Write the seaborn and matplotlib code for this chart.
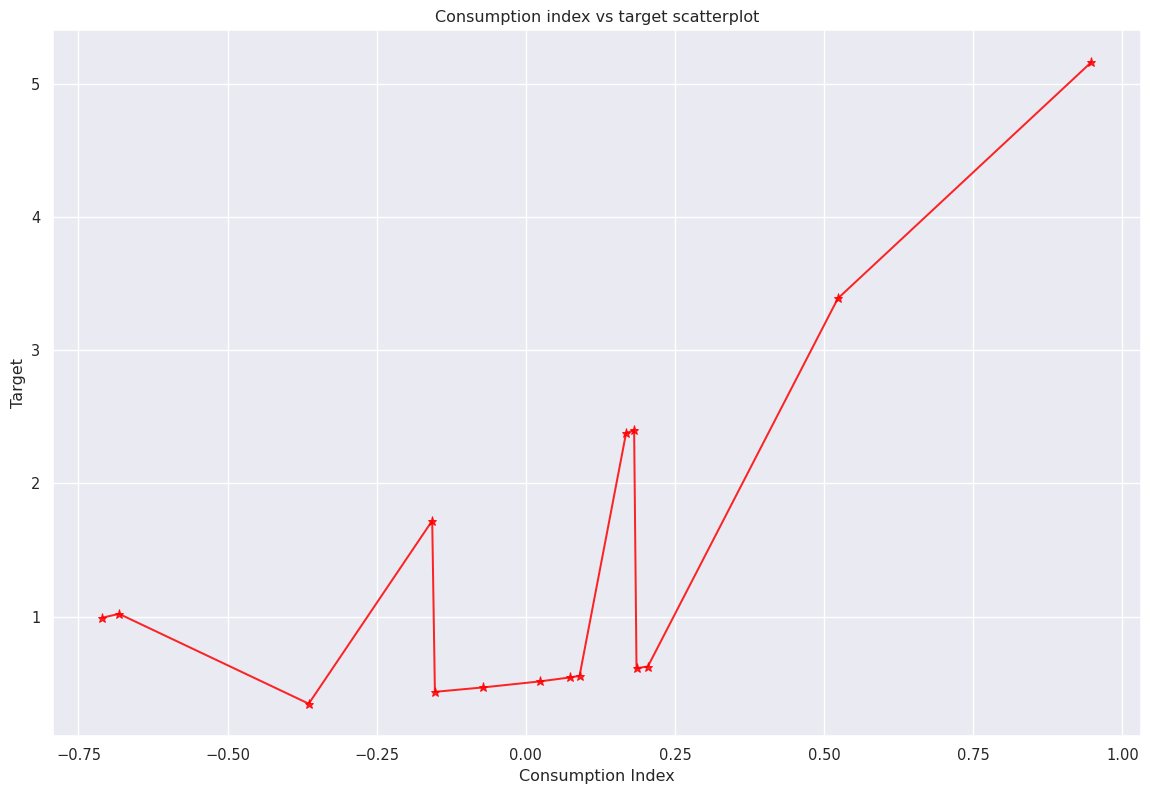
import matplotlib
matplotlib.use("Agg")
import matplotlib.pyplot as plt
import seaborn as sns
import pandas as pd

consumption_index = [-0.710, -0.682, -0.364, -0.157, -0.1525, -0.072, 0.023, 0.074,
                     0.090, 0.168, 0.1815, 0.1855, 0.2045, 0.523, 0.948]
target = [0.993, 1.022, 0.348, 1.721, 0.437, 0.470, 0.515, 0.545,
          0.557, 2.378, 2.400, 0.614, 0.627, 3.388, 5.161]

df = pd.DataFrame({'Consumption Index': consumption_index, 'Target': target})

sns.set_theme(style='darkgrid')

fig = plt.figure(figsize=(1150 / 96, 792 / 96), dpi=96)
plt.subplots_adjust(left=0.046, right=0.992, top=0.962, bottom=0.071)
sns.lineplot(data=df, x='Consumption Index', y='Target', color='red', alpha=0.85,
             marker='*', markersize=7, markeredgecolor='red', linewidth=1.5, sort=False)
plt.title('Consumption index vs target scatterplot')
plt.xlabel('Consumption Index')
plt.ylabel('Target')
plt.savefig('out.png', dpi=96)
